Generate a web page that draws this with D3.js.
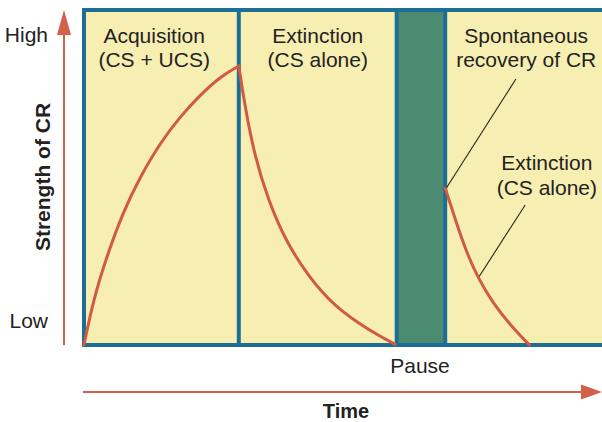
<!DOCTYPE html>
<html>
<head>
<meta charset="utf-8">
<script src="https://cdn.jsdelivr.net/npm/d3@7"></script>
<style>
  html, body { margin: 0; padding: 0; background: #fff; }
  svg { display: block; }
  text { font-family: "Liberation Sans", Arial, Helvetica, sans-serif; fill: #222; }
</style>
</head>
<body>
<svg id="chart" width="602" height="422"></svg>
<script>
// ---- data ----
const phaseBounds = [0, 30, 60.6, 70, 103];          // time boundaries of the phases
const phaseKinds  = ["train", "train", "pause", "train"];
const phaseTitles = [["Acquisition", "(CS + UCS)"], ["Extinction", "(CS alone)"], [], ["Spontaneous", "recovery of CR"]];
const titleCenters = [13.6, 45.3, 65, 85.7];

const acquisitionT = [0, 1.8, 4.4, 7.6, 10.9, 14.7, 18.6, 22.5, 26.4, 30];
const acquisitionV = [0, 13.4, 26.4, 39.8, 50.2, 60.2, 68.1, 74.6, 80.1, 83.3];

const extinctionT = [30, 31.2, 33.1, 35.7, 39.0, 43.5, 48.6, 55.1, 60.3];
const extinctionV = [83.3, 71.1, 56.2, 43.3, 31.3, 20.4, 11.4, 4.5, 0.2];

const recoveryT = [70, 72.2, 74.2, 76.4, 79.3, 82.6, 86.3];
const recoveryV = [46.8, 36.3, 27.4, 19.9, 12.4, 6.0, 0];

const yTickValues = [92.7, 7.3];
const yTickLabels = ["High", "Low"];

// second annotation (extinction after recovery)
const note2Lines = ["Extinction", "(CS alone)"];
const note2Pos = [89.7, 52.2];
// leader lines [t1, v1, t2, v2]
const leaderLines = [[83.7, 79.4, 70.2, 46.8], [85.5, 41.8, 76.4, 20.0]];

// ---- styles ----
const C = { yellow: "#f7efb2", blue: "#1d6e96", green: "#4b8b71", red: "#d05a44", arrow: "#d4604b" };

const svg = d3.select("#chart");
const x = d3.scaleLinear().domain([0, 100]).range([84, 600]);
const y = d3.scaleLinear().domain([0, 100]).range([345, 10]);

// panels
const phases = phaseKinds.map((k, i) => ({ kind: k, t0: phaseBounds[i], t1: phaseBounds[i + 1], title: phaseTitles[i], tc: titleCenters[i] }));
svg.append("g").selectAll("rect").data(phases).join("rect")
  .attr("x", d => x(d.t0)).attr("y", y(100))
  .attr("width", d => x(d.t1) - x(d.t0)).attr("height", y(0) - y(100))
  .attr("fill", d => d.kind === "pause" ? C.green : C.yellow);

// borders
const borders = svg.append("g").attr("stroke", C.blue).attr("stroke-width", 4).attr("fill", "none");
borders.append("line").attr("x1", x(0) - 2).attr("x2", x(103)).attr("y1", y(100)).attr("y2", y(100));
borders.append("line").attr("x1", x(0) - 2).attr("x2", x(103)).attr("y1", y(0)).attr("y2", y(0));
borders.selectAll(".v").data(phaseBounds.slice(0, 4)).join("line").attr("class", "v")
  .attr("x1", d => x(d)).attr("x2", d => x(d)).attr("y1", y(100)).attr("y2", y(0));

// titles
phases.forEach(p => {
  p.title.forEach((s, j) => {
    svg.append("text").attr("x", x(p.tc)).attr("y", 43 + j * 24).attr("text-anchor", "middle")
      .style("font-size", "21px").text(s);
  });
});
note2Lines.forEach((s, j) => {
  svg.append("text").attr("x", x(note2Pos[0])).attr("y", y(note2Pos[1]) + j * 25)
    .attr("text-anchor", "middle").style("font-size", "21px").text(s);
});

// leader lines
svg.append("g").selectAll("line").data(leaderLines).join("line")
  .attr("x1", d => x(d[0])).attr("y1", d => y(d[1]))
  .attr("x2", d => x(d[2])).attr("y2", d => y(d[3]))
  .attr("stroke", "#222").attr("stroke-width", 1.1);

// curves
const line = d3.line().x(d => x(d[0])).y(d => y(d[1])).curve(d3.curveBasis);
[[acquisitionT, acquisitionV], [extinctionT, extinctionV], [recoveryT, recoveryV]].forEach(([T, V]) => {
  svg.append("path").datum(T.map((t, i) => [t, V[i]])).attr("d", line)
    .attr("fill", "none").attr("stroke", C.red).attr("stroke-width", 3).attr("stroke-linecap", "round");
});

// y tick labels
const yAxis = d3.axisLeft(y).tickValues(yTickValues).tickSize(0).tickPadding(0)
  .tickFormat((d, i) => yTickLabels[i]);
const ga = svg.append("g").attr("transform", "translate(48,0)").call(yAxis);
ga.select(".domain").remove();
ga.selectAll("text").style("font-size", "21px").attr("fill", "#222")
  .style("font-family", '"Liberation Sans", Arial, sans-serif');

// arrows
const yArrowX = 64, xArrowY = 392;
svg.append("line").attr("x1", yArrowX).attr("x2", yArrowX).attr("y1", y(0)).attr("y2", 30)
  .attr("stroke", C.arrow).attr("stroke-width", 2);
svg.append("path").attr("d", `M${yArrowX},10 L${yArrowX - 7},35 L${yArrowX + 7},35 Z`).attr("fill", C.arrow);
svg.append("line").attr("x1", x(0) - 1).attr("x2", 585).attr("y1", xArrowY).attr("y2", xArrowY)
  .attr("stroke", C.arrow).attr("stroke-width", 2);
svg.append("path").attr("d", `M602,${xArrowY} L581,${xArrowY - 7.5} L581,${xArrowY + 7.5} Z`).attr("fill", C.arrow);

// axis labels
svg.append("text").attr("x", 420).attr("y", 373).attr("text-anchor", "middle").style("font-size", "21px").text("Pause");
svg.append("text").attr("x", 346).attr("y", 418).attr("text-anchor", "middle")
  .style("font-size", "20px").style("font-weight", "bold").text("Time");
svg.append("text").attr("transform", `translate(50,177) rotate(-90)`).attr("text-anchor", "middle")
  .style("font-size", "21px").style("font-weight", "bold").text("Strength of CR");
</script>
</body>
</html>
